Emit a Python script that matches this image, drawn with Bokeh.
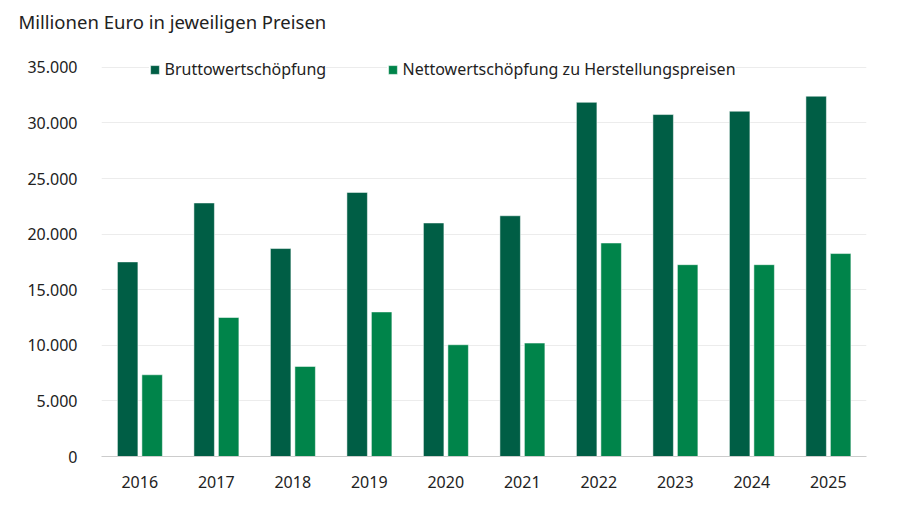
from bokeh.plotting import figure
from bokeh.models import FactorRange, Range1d, ColumnDataSource, FixedTicker, Legend, LegendItem, Title, CustomJSTickFormatter
from bokeh.transform import dodge
from bokeh.embed import file_html
from bokeh.resources import INLINE

years = ["2016", "2017", "2018", "2019", "2020", "2021", "2022", "2023", "2024", "2025"]
brutto = [17500, 22800, 18700, 23750, 21000, 21650, 31850, 30750, 31050, 32400]
netto = [7350, 12500, 8100, 13000, 10050, 10200, 19200, 17250, 17250, 18250]
y_ticks = [0, 5000, 10000, 15000, 20000, 25000, 30000, 35000]
series_names = ["Bruttowertschöpfung", "Nettowertschöpfung zu Herstellungspreisen"]
subtitle = "Millionen Euro in jeweiligen Preisen"

DARK = "#005e45"
LIGHT = "#00844a"
FONT = "Noto Sans"
TXT = "#222222"
H = 498

src = ColumnDataSource(dict(year=years, brutto=brutto, netto=netto))

p = figure(width=884, height=H, x_range=FactorRange(factors=years, range_padding=0),
           y_range=Range1d(0, 37500), output_backend="svg", toolbar_location=None,
           min_border_left=101, min_border_right=18, min_border_top=10, min_border_bottom=42)
p.outline_line_color = None
p.background_fill_color = "white"

p.title = Title(text=subtitle, align="left", offset=-83, standoff=12,
                text_font=FONT, text_font_size="18.5px", text_font_style="normal",
                text_color=TXT)

r1 = p.vbar(x=dodge("year", -0.158, range=p.x_range), top="brutto", width=0.268, source=src,
            fill_color=DARK, line_color="white", line_alpha=0.5, line_width=1)
r2 = p.vbar(x=dodge("year", 0.162, range=p.x_range), top="netto", width=0.268, source=src,
            fill_color=LIGHT, line_color="white", line_alpha=0.5, line_width=1)

p.xgrid.grid_line_color = None
p.ygrid.grid_line_color = "#ececec"
p.ygrid.grid_line_width = 1

p.yaxis.ticker = FixedTicker(ticks=y_ticks)
p.yaxis.formatter = CustomJSTickFormatter(code="return tick.toFixed(0).replace(/\\B(?=(\\d{3})+(?!\\d))/g, '.');")
for ax in (p.xaxis[0], p.yaxis[0]):
    ax.major_tick_line_color = None
    ax.minor_tick_line_color = None
    ax.major_label_text_font = FONT
    ax.major_label_text_font_size = "16px"
    ax.major_label_text_color = TXT
p.yaxis.axis_line_color = None
p.yaxis.major_label_standoff = 18
p.xaxis.axis_line_color = "#cccccc"
p.xaxis.axis_line_width = 1
p.xaxis.major_label_standoff = 13

def make_legend(renderer, name, x, y):
    lg = Legend(items=[LegendItem(label=name, renderers=[renderer])], location=(x, y),
                orientation="horizontal", glyph_width=11, glyph_height=11, label_height=18,
                label_standoff=5, padding=3, margin=0, spacing=0,
                label_text_font=FONT, label_text_font_size="16px", label_text_color=TXT,
                border_line_color=None, background_fill_color="white", background_fill_alpha=1.0)
    p.add_layout(lg, "center")

make_legend(r1, series_names[0], 47.5, 376)
make_legend(r2, series_names[1], 285.5, 376)

open("out.html", "w").write(file_html(p, INLINE))
